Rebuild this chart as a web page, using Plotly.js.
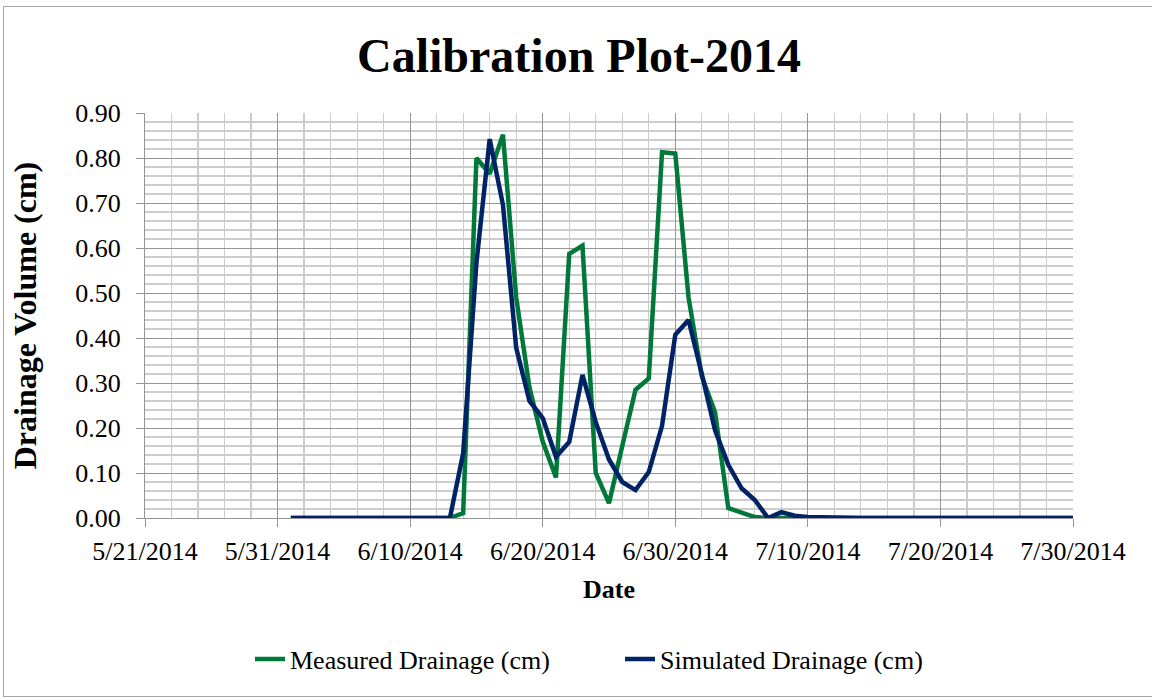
<!DOCTYPE html>
<html>
<head>
<meta charset="utf-8">
<script src="https://cdn.plot.ly/plotly-3.0.1.min.js"></script>
<style>
  html, body { margin: 0; padding: 0; background: #fff; }
  #wrap { position: relative; width: 1152px; height: 698px; overflow: hidden; }
  #chart { width: 1152px; height: 698px; }
  #frame { position: absolute; left: 3px; top: 6px; width: 1160px; height: 689px;
           border: 1px solid #a6a6a6; pointer-events: none; }
</style>
</head>
<body>
<div id="wrap"><div id="chart"></div><div id="frame"></div></div>
<script>
const dates = [
  '2014-06-01','2014-06-02','2014-06-03','2014-06-04','2014-06-05','2014-06-06','2014-06-07','2014-06-08','2014-06-09','2014-06-10',
  '2014-06-11','2014-06-12','2014-06-13','2014-06-14','2014-06-15','2014-06-16','2014-06-17','2014-06-18','2014-06-19','2014-06-20',
  '2014-06-21','2014-06-22','2014-06-23','2014-06-24','2014-06-25','2014-06-26','2014-06-27','2014-06-28','2014-06-29','2014-06-30',
  '2014-07-01','2014-07-02','2014-07-03','2014-07-04','2014-07-05','2014-07-06','2014-07-07','2014-07-08','2014-07-09','2014-07-10',
  '2014-07-11','2014-07-12','2014-07-13','2014-07-14','2014-07-15','2014-07-16','2014-07-17','2014-07-18','2014-07-19','2014-07-20',
  '2014-07-21','2014-07-22','2014-07-23','2014-07-24','2014-07-25','2014-07-26','2014-07-27','2014-07-28','2014-07-29','2014-07-30'
];
const measured = [
  0,0,0,0,0,0,0,0,0,0,
  0,0,0,0.011,0.800,0.765,0.852,0.490,0.290,0.170,
  0.090,0.587,0.605,0.100,0.033,0.160,0.285,0.310,0.813,0.810,
  0.490,0.315,0.235,0.022,0.011,0.002,0,0,0,0,
  0,0,0,0,0,0,0,0,0,0,
  0,0,0,0,0,0,0,0,0,0
];
const simulated = [
  0,0,0,0,0,0,0,0,0,0,
  0,0,0,0.144,0.567,0.842,0.696,0.378,0.260,0.222,
  0.136,0.169,0.318,0.213,0.130,0.080,0.062,0.102,0.205,0.407,
  0.440,0.320,0.195,0.118,0.066,0.040,0.000,0.013,0.005,0.002,
  0.001,0,0,0,0,0,0,0,0,0,
  0,0,0,0,0,0,0,0,0,0
];
const seriesNames = ['Measured Drainage (cm)', 'Simulated Drainage (cm)'];
const titleText = 'Calibration Plot-2014';
const xTitle = 'Date';
const yTitle = 'Drainage Volume (cm)';
const xRange = ['2014-05-21', '2014-07-30'];
const yRange = [0, 0.9];

const FONT = '"Liberation Serif", "Times New Roman", serif';
const DAY = 86400000;

const traces = [
  { x: dates, y: measured, name: seriesNames[0], type: 'scatter', mode: 'lines',
    line: { color: '#00783A', width: 4.5 } },
  { x: dates, y: simulated, name: seriesNames[1], type: 'scatter', mode: 'lines',
    line: { color: '#002366', width: 4.5 } }
];

const layout = {
  width: 1152, height: 698,
  paper_bgcolor: '#ffffff', plot_bgcolor: '#ffffff',
  margin: { l: 145, r: 79, t: 113, b: 180 },
  font: { family: FONT, color: '#000', size: 26 },
  title: { text: '<b>' + titleText + '</b>', font: { family: FONT, size: 48, color: '#000' },
           x: 579/1152, xref: 'container', xanchor: 'center', y: 1 - 55/698, yref: 'container', yanchor: 'middle' },
  xaxis: {
    type: 'date', range: xRange, tick0: xRange[0], dtick: 10 * DAY,
    tickformat: '%-m/%-d/%Y', ticks: 'outside', ticklen: 8, tickcolor: '#969696',
    tickfont: { family: FONT, size: 26, color: '#000' }, ticklabelstandoff: 2,
    showgrid: true, gridcolor: '#969696', gridwidth: 1,
    minor: { dtick: 2 * DAY, showgrid: true, gridcolor: '#cccccc', gridwidth: 1.2, ticks: '' },
    showline: true, linecolor: '#969696', linewidth: 1, zeroline: false,
    title: { text: '<b>' + xTitle + '</b>', font: { family: FONT, size: 26, color: '#000' }, standoff: 14 },
    fixedrange: true
  },
  yaxis: {
    range: yRange, dtick: 0.1, tick0: 0, tickformat: '.2f',
    ticks: 'outside', ticklen: 8, tickcolor: '#969696',
    tickfont: { family: FONT, size: 26, color: '#000' }, ticklabelstandoff: 10,
    showgrid: true, gridcolor: '#969696', gridwidth: 1,
    minor: { dtick: 0.02, showgrid: true, gridcolor: '#cccccc', gridwidth: 1.2, ticks: '' },
    showline: true, linecolor: '#969696', linewidth: 1, zeroline: false,
    title: { text: '<b>' + yTitle + '</b>', font: { family: FONT, size: 32, color: '#000' }, standoff: 29 },
    fixedrange: true
  },
  showlegend: true,
  legend: {
    orientation: 'h', xref: 'container', yref: 'container',
    x: 250/1152, xanchor: 'left', y: 1 - 659/698, yanchor: 'middle',
    font: { family: FONT, size: 26, color: '#000' },
    bgcolor: 'rgba(0,0,0,0)', itemwidth: 30, tracegroupgap: 0,
    entrywidth: 325, entrywidthmode: 'pixels'
  }
};

Plotly.newPlot('chart', traces, layout, { displayModeBar: false, staticPlot: true });
</script>
</body>
</html>
